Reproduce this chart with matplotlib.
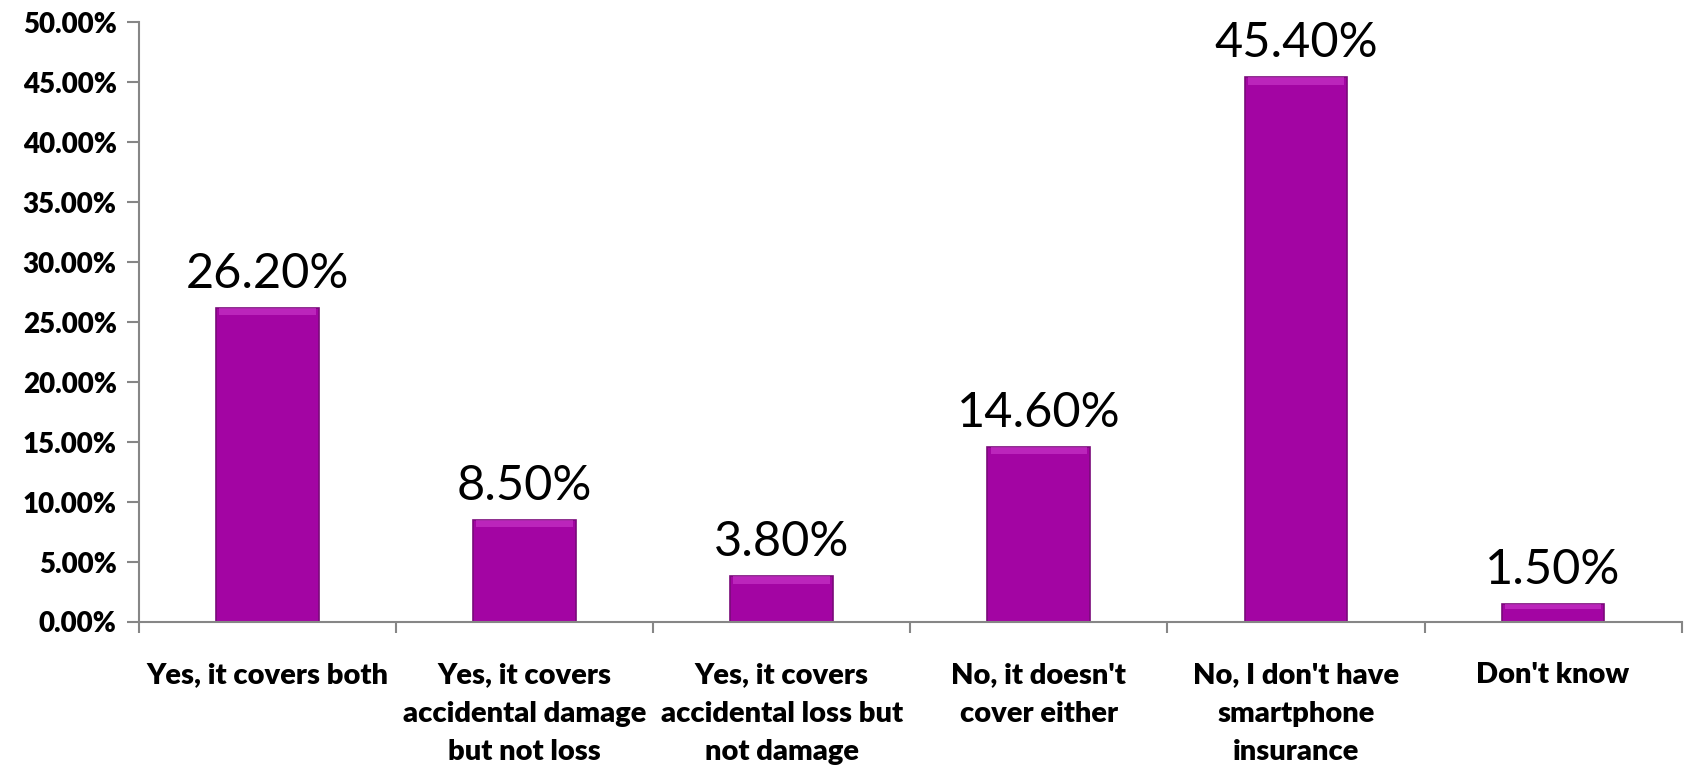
import matplotlib
matplotlib.use("Agg")
import matplotlib.pyplot as plt
import numpy as np

# Chart data
categories = [
    "Yes, it covers both",
    "Yes, it covers\naccidental damage\nbut not loss",
    "Yes, it covers\naccidental loss but\nnot damage",
    "No, it doesn't\ncover either",
    "No, I don't have\nsmartphone\ninsurance",
    "Don't know",
]
values = [26.2, 8.5, 3.8, 14.6, 45.4, 1.5]
yticks = np.arange(0, 50.01, 5)

bar_color = "#A305A3"
edge_color = "#7A0A7A"
highlight = "#D040D0"
axis_gray = "#868686"

plt.rcParams["font.family"] = ["Lato", "DejaVu Sans"]

fig = plt.figure(figsize=(16.85, 7.66), dpi=100)
ax = fig.add_axes([0.0825, 0.188, 0.9155, 0.783])

x = np.arange(len(categories))
width = 0.4

# Main bars
ax.bar(x, values, width=width, color=bar_color, edgecolor=edge_color, linewidth=1.2, zorder=2)
# Bevel highlight along the top of each bar
bevel = [min(0.6, v * 0.3) for v in values]
ax.bar(x, bevel, bottom=np.array(values) - np.array(bevel), width=width * 0.94,
       color=highlight, alpha=0.55, linewidth=0, zorder=3)

# Value labels
for xi, v in zip(x, values):
    ax.text(xi, v + 1.0, f"{v:.2f}%", ha="center", va="bottom", fontsize=35, color="black")

ax.set_xlim(-0.5, len(categories) - 0.5)
ax.set_ylim(0, 50)
ax.set_yticks(yticks)
ax.set_yticklabels([f"{t:.2f}%" for t in yticks], fontsize=20, fontweight="heavy")

ax.set_xticks(x)
ax.set_xticklabels(categories, fontsize=21, fontweight="heavy", linespacing=1.6, va="top")
ax.tick_params(axis="x", length=0, pad=29)
ax.set_xticks(np.arange(-0.5, len(categories)), minor=True)
ax.tick_params(axis="x", which="minor", length=8, color=axis_gray, width=1.5)
ax.tick_params(axis="y", length=9, color=axis_gray, width=1.5, pad=7)

for side in ["top", "right"]:
    ax.spines[side].set_visible(False)
for side in ["left", "bottom"]:
    ax.spines[side].set_color(axis_gray)
    ax.spines[side].set_linewidth(1.5)

fig.savefig("out.png", dpi=100)
